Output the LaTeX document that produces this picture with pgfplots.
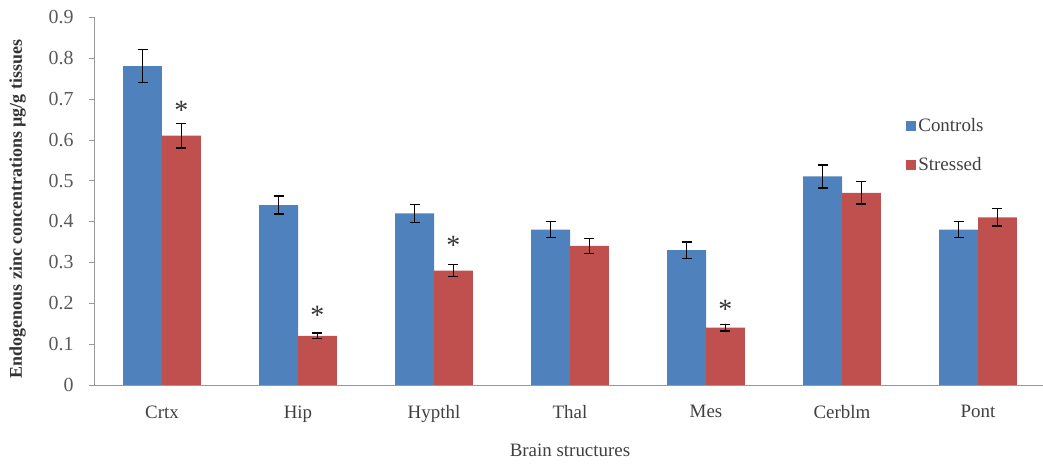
\documentclass[border=0pt]{standalone}
\usepackage{fontspec}
\setmainfont{Liberation Serif}
\usepackage{pgfplots}
\pgfplotsset{compat=1.18}
\definecolor{cblue}{HTML}{4F81BD}
\definecolor{cred}{HTML}{C0504D}
\begin{document}
\begin{tikzpicture}
\begin{axis}[
  scale only axis,
  width=952bp, height=368bp,
  xmin=-0.5, xmax=6.5,
  ymin=0, ymax=0.9,
  axis x line*=bottom, axis y line*=left,
  axis line style={draw=black!40, -},
  xtick={0,...,6},
  xticklabels={Crtx,Hip,Hypthl,Thal,Mes,Cerblm,Pont},
  x tick style={draw=none},
  extra x ticks={0.5,1.5,2.5,3.5,4.5,5.5},
  extra x tick labels={},
  extra x tick style={tick style={draw=black!40}, major tick length=5bp, tick align=outside},
  ytick={0,0.1,...,0.9},
  yticklabels={0,0.1,0.2,0.3,0.4,0.5,0.6,0.7,0.8,0.9},
  y tick style={draw=black!40},
  tick align=outside,
  major tick length=5bp,
  xticklabel style={font=\fontsize{19}{22}\selectfont, text=black!75, yshift=-12bp},
  yticklabel style={font=\fontsize{20}{23}\selectfont, text=black!65, xshift=-12bp},
  /pgf/number format/assume math mode=true,
  xlabel={Brain structures},
  xlabel style={font=\fontsize{19}{22}\selectfont, text=black!75, yshift=-4bp},
  ylabel={\textbf{Endogenous zinc concentrations µg/g tissues}},
  ylabel style={font=\fontsize{18}{20}\selectfont, text=black!80, yshift=16bp, xshift=-8bp},
  legend style={draw=none, fill=none, at={(0.85,0.735)}, anchor=north west,
    font=\fontsize{19}{22}\selectfont, text=black!75, row sep=20bp,
    /tikz/every even column/.append style={column sep=7bp}},
  legend cell align=left,
  legend image code/.code={\fill[#1] (0bp,-5bp) rectangle (10bp,5bp);},
  clip=false,
]
\addplot[ybar, bar width=0.285, bar shift=-0.1425, fill=cblue, draw=none]
  coordinates {(0,0.78) (1,0.44) (2,0.42) (3,0.38) (4,0.33) (5,0.51) (6,0.38)};
\addlegendentry{Controls}
\addplot[ybar, bar width=0.285, bar shift=0.1425, fill=cred, draw=none]
  coordinates {(0,0.61) (1,0.12) (2,0.28) (3,0.34) (4,0.14) (5,0.47) (6,0.41)};
\addlegendentry{Stressed}
% error bars of Controls
\addplot[forget plot, only marks, mark=none, mark size=0pt,
  mark options={draw=none, fill=none}, draw=none,
  error bars/.cd, y dir=both, y explicit,
  error bar style={line width=1.4bp, black},
  error mark options={rotate=90, mark size=5bp, line width=1.4bp, black}]
  coordinates {
  (-0.1425,0.78) +- (0,0.04)
  (0.8575,0.44) +- (0,0.022)
  (1.8575,0.42) +- (0,0.022)
  (2.8575,0.38) +- (0,0.02)
  (3.8575,0.33) +- (0,0.02)
  (4.8575,0.51) +- (0,0.028)
  (5.8575,0.38) +- (0,0.02)
  };
% error bars of Stressed
\addplot[forget plot, only marks, mark=none, mark size=0pt,
  mark options={draw=none, fill=none}, draw=none,
  error bars/.cd, y dir=both, y explicit,
  error bar style={line width=1.4bp, black},
  error mark options={rotate=90, mark size=5bp, line width=1.4bp, black}]
  coordinates {
  (0.1425,0.61) +- (0,0.03)
  (1.1425,0.12) +- (0,0.007)
  (2.1425,0.28) +- (0,0.015)
  (3.1425,0.34) +- (0,0.018)
  (4.1425,0.14) +- (0,0.008)
  (5.1425,0.47) +- (0,0.027)
  (6.1425,0.41) +- (0,0.021)
  };
\addplot[forget plot, only marks, mark=text,
  text mark={\fontsize{28}{28}\selectfont *}, text mark as node,
  mark options={text=black!80}]
  coordinates {
  (0.1425,0.672)
  (1.1425,0.170)
  (2.1425,0.342)
  (4.1425,0.185)
  };
\end{axis}
\pgfresetboundingbox
\path[use as bounding box] ([xshift=-94bp,yshift=-91bp]current axis.south west) rectangle ([xshift=-3bp,yshift=17bp]current axis.north east);
\end{tikzpicture}
\end{document}
